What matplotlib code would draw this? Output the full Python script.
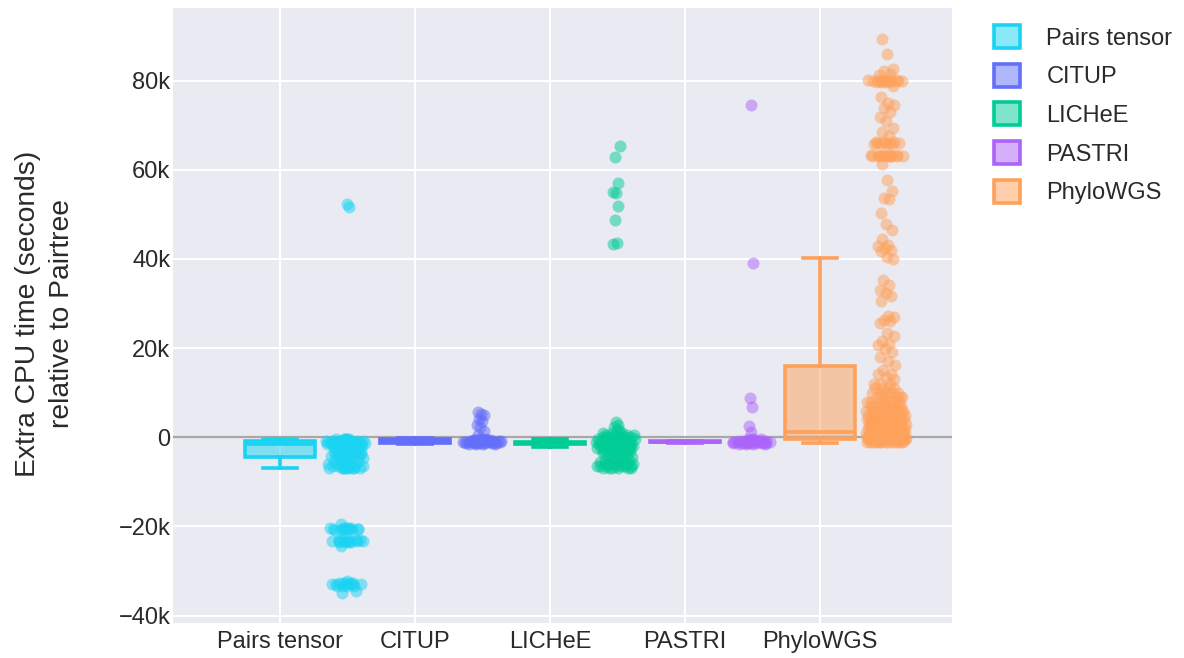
import numpy as np
import matplotlib
matplotlib.use("Agg")
import matplotlib.pyplot as plt
from matplotlib.patches import Patch
from matplotlib.ticker import FuncFormatter
from matplotlib.colors import to_rgba

plt.rcParams['font.family'] = ['Liberation Sans', 'DejaVu Sans']

# ---------------- data (values in thousands of seconds) ----------------
methods = ["Pairs tensor", "CITUP", "LICHeE", "PASTRI", "PhyloWGS"]
colors = ["#19D3F3", "#636EFA", "#00CC96", "#AB63FA", "#FFA15A"]

# box statistics: whislo, q1, med, q3, whishi
box_whislo = [-7.0, -1.45, -2.25, -1.2, -1.35]
box_q1     = [-4.4, -1.2, -1.5, -1.1, -0.45]
box_med    = [-1.6, -0.8, -1.3, -1.0, 1.25]
box_q3     = [-0.8, -0.4, -1.05, -0.9, 16.0]
box_whishi = [-0.5, -0.15, -0.3, -0.85, 40.3]

# individual points: scattered values, plus dense clusters as (value, count)
pairs_pts = [52.3, 51.7, -19.4, -24.3, -34.9, -34.6, -32.2]
pairs_clu_val = [-0.5, -0.8, -1.0, -1.2, -1.5, -2.0, -2.6, -3.2, -3.8, -4.2, -4.7, -5.3,
                 -6.0, -6.4, -6.8, -7.0, -20.4, -20.6, -20.8, -23.0, -23.2, -23.4,
                 -32.7, -33.0, -33.3]
pairs_clu_cnt = [6, 7, 7, 7, 6, 4, 4, 4, 4, 4, 4, 3, 4, 5, 5, 4, 5, 5, 4, 5, 5, 4, 4, 5, 4]

citup_pts = [5.7, 5.3, 4.9, 4.2, 3.6, 2.8, 2.2, 1.3, 0.6]
citup_clu_val = [-0.3, -0.6, -0.8, -1.0, -1.2, -1.4]
citup_clu_cnt = [3, 6, 8, 9, 7, 4]

lichee_pts = [65.3, 62.8, 57.0, 55.1, 54.7, 51.9, 48.8, 43.5, 43.4, 3.4, 2.8, 2.2]
lichee_clu_val = [1.6, 1.0, 0.5, 0.0, -0.5, -1.0, -1.5, -2.0, -2.5, -3.0, -3.5, -4.0,
                  -4.5, -5.0, -5.5, -6.0, -6.4, -6.8]
lichee_clu_cnt = [2, 3, 5, 6, 7, 8, 8, 7, 6, 5, 4, 3, 3, 3, 3, 6, 7, 6]

pastri_pts = [74.6, 39.1, 8.9, 6.7, 2.5, 1.1]
pastri_clu_val = [-0.5, -0.8, -1.0, -1.2, -1.4]
pastri_clu_cnt = [4, 7, 9, 7, 4]

phylo_pts = [89.4, 86.0, 82.6, 82.2, 81.6, 81.2, 78.8, 76.3, 75.0, 74.5, 73.8, 73.0, 71.8,
             70.9, 69.4, 68.4, 67.5, 61.4, 57.7, 55.3, 53.6, 53.4, 50.4, 47.9, 46.4, 44.4,
             43.2, 42.8, 42.5, 42.1, 41.8, 40.4, 40.0, 35.2, 34.2, 33.1, 32.4, 31.6, 30.5,
             27.1, 27.0, 26.4, 26.0, 25.7, 23.4, 22.8, 21.5, 20.9, 20.7, 19.8, 19.2, 18.1,
             17.0, 16.2, 15.0, 14.3, 14.2, 13.6, 13.0]
phylo_clu_val = [80.2, 80.0, 79.8, 66.2, 66.0, 65.8, 63.4, 63.2, 63.0,
                 12.0, 11.0, 10.0, 9.0, 8.0, 7.0, 6.0, 5.0, 4.0, 3.0, 2.0, 1.0, 0.0, -0.5, -1.0]
phylo_clu_cnt = [5, 5, 4, 3, 4, 3, 5, 5, 4,
                 3, 4, 5, 6, 7, 8, 9, 10, 11, 12, 14, 16, 18, 16, 14]

series_pts = [pairs_pts, citup_pts, lichee_pts, pastri_pts, phylo_pts]
series_clu_val = [pairs_clu_val, citup_clu_val, lichee_clu_val, pastri_clu_val, phylo_clu_val]
series_clu_cnt = [pairs_clu_cnt, citup_clu_cnt, lichee_clu_cnt, pastri_clu_cnt, phylo_clu_cnt]


def jitter_offsets(vals, amp):
    """Density-scaled jitter (like plotly box points), deterministic."""
    vals = np.asarray(vals, float)
    order = np.argsort(vals)
    v = vals[order]
    n = len(v)
    min_spread = max((v.max() - v.min()) * 0.01, 1e-9)
    fac = np.empty(n)
    for i in range(n):
        lo, hi = max(0, i - 5), min(n - 1, i + 5)
        fac[i] = np.sqrt(min_spread * (hi - lo) / (v[hi] - v[lo] + min_spread))
    fac = np.clip(fac / np.percentile(fac, 70), 0, 1)
    u = ((np.arange(n) * 0.6180339887 + 0.31) % 1.0) * 2 - 1
    offs = np.empty(n)
    offs[order] = fac * amp * u
    return offs


# ---------------- figure ----------------
W, H = 1184, 658
fig = plt.figure(figsize=(W / 100, H / 100), dpi=100)
ax = fig.add_axes([173 / W, 1 - 622.7 / H, (952 - 173) / W, (622.7 - 8) / H])
ax.set_facecolor("#EAEAF2")
for s in ax.spines.values():
    s.set_visible(False)

ax.set_axisbelow(True)
ax.grid(True, color="white", linewidth=1.5)
ax.axhline(0, color="#A8A8A8", linewidth=1.6, zorder=1.5)

lw = 2.6
point_offset = 0.49
for i, (m, c) in enumerate(zip(methods, colors)):
    stats = [dict(med=box_med[i] * 1000, q1=box_q1[i] * 1000, q3=box_q3[i] * 1000,
                  whislo=box_whislo[i] * 1000, whishi=box_whishi[i] * 1000, fliers=[])]
    ax.bxp(stats, positions=[i], widths=0.52, capwidths=0.25, patch_artist=True,
           showfliers=False,
           boxprops=dict(facecolor=to_rgba(c, 0.5), edgecolor=c, linewidth=lw),
           medianprops=dict(color=c, linewidth=lw),
           whiskerprops=dict(color=c, linewidth=lw),
           capprops=dict(color=c, linewidth=lw),
           manage_ticks=False)
    vals = np.concatenate([np.asarray(series_pts[i], float),
                           np.repeat(series_clu_val[i], series_clu_cnt[i])]) * 1000
    xs = i + point_offset + jitter_offsets(vals, 0.15)
    ax.scatter(xs, vals, s=75, color=c, alpha=0.5, linewidths=0, zorder=3)

ax.set_xlim(-0.793, 4.978)
ax.set_ylim(-41600, 96300)
ax.set_xticks(range(len(methods)))
ax.set_xticklabels(methods)
ax.set_yticks([-40000, -20000, 0, 20000, 40000, 60000, 80000])


def kfmt(v, pos):
    if abs(v) < 1e-9:
        return "0"
    s = f"{abs(v) / 1000:.0f}k"
    return ("\u2212" + s) if v < 0 else s


ax.yaxis.set_major_formatter(FuncFormatter(kfmt))
ax.tick_params(axis="both", length=0, labelsize=17, colors="#2a2a2a")
ax.tick_params(axis="y", pad=2)
ax.tick_params(axis="x", pad=6)

fig.text(45.5 / W, 1 - 314 / H, "Extra CPU time (seconds)\nrelative to Pairtree",
         rotation=90, ha="center", va="center", fontsize=20.3, color="#2a2a2a",
         multialignment="center", linespacing=1.4)

handles = [Patch(facecolor=to_rgba(c, 0.5), edgecolor=c, linewidth=2.6) for c in colors]
fig.legend(handles, methods, loc="upper left", bbox_to_anchor=(994 / W, 1 - 25 / H),
           frameon=False, fontsize=17, handlelength=1.12, handleheight=1.12,
           handletextpad=1.1, labelspacing=0.6, borderpad=0, borderaxespad=0,
           labelcolor="#2a2a2a")

fig.savefig("out.png", dpi=100)
